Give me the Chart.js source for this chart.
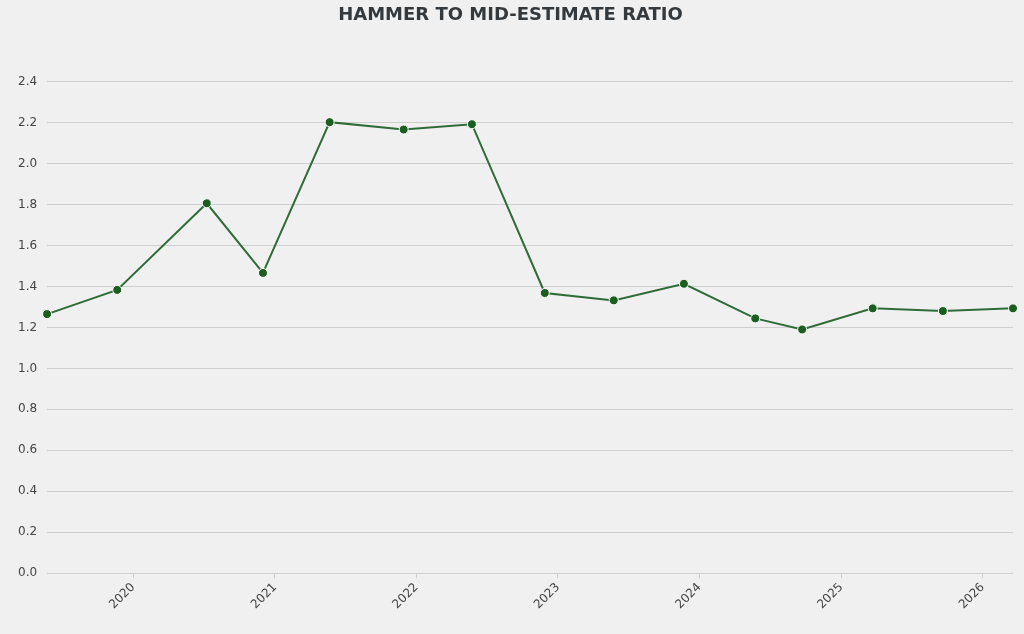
<!DOCTYPE html>
<html>
<head>
<meta charset="utf-8">
<script src="https://cdn.jsdelivr.net/npm/chart.js@4/dist/chart.umd.min.js"></script>
<style>
html,body{margin:0;padding:0;background:#f0f0f0;}
#wrap{width:1024px;height:634px;}
</style>
</head>
<body>
<div id="wrap"><canvas id="c" width="1024" height="634"></canvas></div>
<script>
const titleText = "HAMMER TO MID-ESTIMATE RATIO";
const saleDates = ["2019-05-24","2019-11-21","2020-07-09","2020-12-01","2021-05-22","2021-11-29","2022-05-24","2022-11-28","2023-05-25","2023-11-22","2024-05-24","2024-09-22","2025-03-23","2025-09-20","2026-03-20"];
const ratios = [1.265,1.383,1.806,1.466,2.202,2.166,2.192,1.368,1.332,1.413,1.244,1.190,1.293,1.280,1.293];
const yearTicks = [2020,2021,2022,2023,2024,2025,2026];

const xs = saleDates.map(d => Date.parse(d));
const points = xs.map((x, i) => ({x: x, y: ratios[i]}));

new Chart(document.getElementById('c'), {
  type: 'line',
  data: {
    datasets: [{
      data: points,
      borderColor: '#2e6b37',
      borderWidth: 2,
      backgroundColor: '#1b5e20',
      pointBackgroundColor: '#1b5e20',
      pointBorderColor: '#ffffff',
      pointBorderWidth: 1,
      pointRadius: 4.5,
      tension: 0,
      clip: false
    }]
  },
  options: {
    responsive: false,
    devicePixelRatio: 1,
    animation: false,
    layout: {padding: {left: 8, right: 11, top: 5, bottom: 20}},
    plugins: {
      legend: {display: false},
      tooltip: {enabled: false},
      title: {
        display: true,
        text: titleText,
        color: '#33393d',
        font: {family: 'DejaVu Sans', size: 18, weight: 'bold'},
        padding: {top: 0, bottom: 55}
      }
    },
    scales: {
      x: {
        type: 'linear',
        min: Math.min(...xs),
        max: Math.max(...xs),
        afterBuildTicks: (scale) => { scale.ticks = yearTicks.map(y => ({value: Date.UTC(y, 0, 1)})); },
        grid: {drawOnChartArea: false, drawTicks: true, tickLength: 5, color: '#cfcfcf'},
        border: {display: false},
        ticks: {
          autoSkip: false,
          maxRotation: 45,
          minRotation: 45,
          padding: 2,
          color: '#444444',
          font: {family: 'DejaVu Sans', size: 12},
          callback: (v) => String(new Date(v).getUTCFullYear())
        }
      },
      y: {
        min: 0,
        max: 2.4,
        grid: {color: '#cfcfcf', drawTicks: false},
        border: {display: false},
        ticks: {
          stepSize: 0.2,
          padding: 10,
          color: '#444444',
          font: {family: 'DejaVu Sans', size: 12},
          callback: (v) => v.toFixed(1)
        }
      }
    }
  }
});
</script>
</body>
</html>
